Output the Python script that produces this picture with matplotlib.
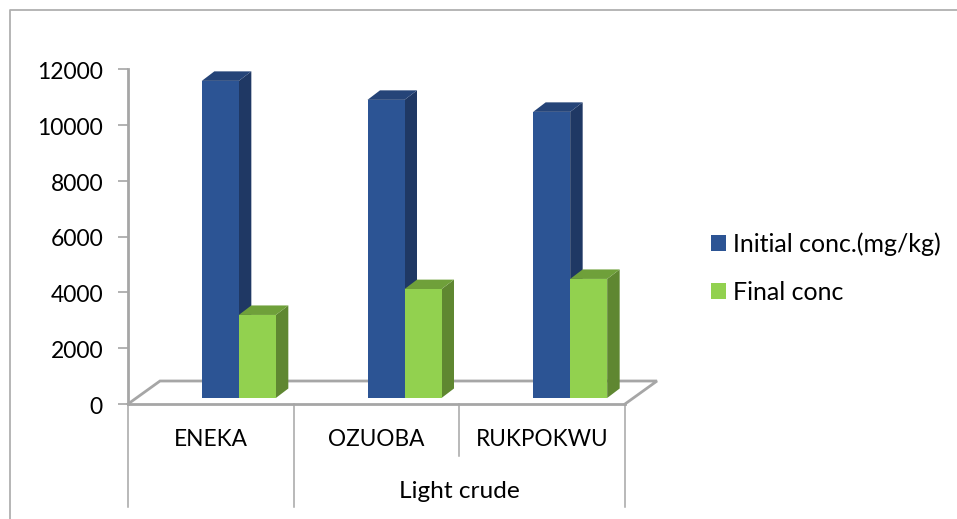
import matplotlib
matplotlib.use("Agg")
import matplotlib.pyplot as plt
from matplotlib.patches import Polygon, Patch
from matplotlib.transforms import Affine2D

plt.rcParams['font.family'] = ['Lato', 'DejaVu Sans']

# data
categories = ["ENEKA", "OZUOBA", "RUKPOKWU"]
group_label = "Light crude"
initial_conc = [11360, 10680, 10250]
final_conc = [2975, 3900, 4265]
series_names = ["Initial conc.(mg/kg)", "Final conc"]
y_ticks = [0, 2000, 4000, 6000, 8000, 10000, 12000]

W, H = 957, 519
AX_L, AX_R, AX_T, AX_B = 128, 625, 69, 404

BLUE = ["#2C5494", "#1F3864", "#254478"]   # front, side, top
GREEN = ["#92D14F", "#5F8731", "#6FA03A"]
GREY = "#A6A6A6"

fig = plt.figure(figsize=(W / 100, H / 100), dpi=100)
ax = fig.add_axes([AX_L / W, 1 - AX_B / H, (AX_R - AX_L) / W, (AX_B - AX_T) / H])
ax.set_xlim(0, 3)
ax.set_ylim(0, 12000)

# pixel sizes turned into data units
px_x = 3 / (AX_R - AX_L)
px_y = 12000 / (AX_B - AX_T)
bar_w = 37 * px_x
shift_x = 28 * px_x
base = 6 * px_y
depth_x = 12.5 * px_x
depth_y = 9.5 * px_y


def draw_bar(left, value, cols, z):
    top = base + value
    right = left + bar_w
    ax.bar(left, value, width=bar_w, bottom=base, align="edge", color=cols[0],
           linewidth=0, zorder=z + 1)
    side = [(right, base), (right + depth_x, base + depth_y),
            (right + depth_x, top + depth_y), (right, top)]
    lid = [(left, top), (left + depth_x, top + depth_y),
           (right + depth_x, top + depth_y), (right, top)]
    ax.add_patch(Polygon(side, closed=True, fc=cols[1], ec="none", zorder=z, clip_on=False))
    ax.add_patch(Polygon(lid, closed=True, fc=cols[2], ec="none", zorder=z, clip_on=False))


# green after blue so it sits over the dark side of the blue bar
for i in range(3):
    centre = i + 0.5 + shift_x
    draw_bar(centre - bar_w, initial_conc[i], BLUE, 2)
    draw_bar(centre, final_conc[i], GREEN, 4)

# floor of the 3d box
floor_dx = 32 * px_x
floor_dy = 23 * px_y
ax.plot([0, floor_dx, 3 + floor_dx, 3], [0, floor_dy, floor_dy, 0], color=GREY, lw=2,
        clip_on=False, zorder=1, solid_joinstyle="miter")

for s in ["top", "right"]:
    ax.spines[s].set_visible(False)
for s in ["left", "bottom"]:
    ax.spines[s].set_color(GREY)
    ax.spines[s].set_linewidth(2)
    ax.spines[s].set_zorder(6)

ax.set_yticks(y_ticks)
ax.tick_params(axis="y", length=7, width=1.2, color=GREY, labelsize=16.5, pad=11, labelcolor="black")
ax.set_xticks([])
# tick labels sit a little lower than the ticks
for lab in ax.get_yticklabels():
    lab.set_transform(lab.get_transform() + Affine2D().translate(0, -1.5))

# category and group labels under the axis
tick_tf = ax.get_xaxis_transform()
long_drop = -103 / (AX_B - AX_T)
short_drop = -52 / (AX_B - AX_T)
for x, drop in zip([0, 1, 2, 3], [long_drop, long_drop, short_drop, long_drop]):
    ax.plot([x, x], [0, drop], transform=tick_tf, color=GREY, lw=1.1, clip_on=False)
for i, name in enumerate(categories):
    ax.text(i + 0.5, -36 / (AX_B - AX_T), name, transform=tick_tf, ha="center", va="center",
            fontsize=16.3, color="black")
ax.text(2, -88 / (AX_B - AX_T), group_label, transform=tick_tf, ha="center", va="center",
        fontsize=17.6, color="black")

handles = [Patch(fc=BLUE[0], ec="none"), Patch(fc=GREEN[0], ec="none")]
fig.legend(handles, series_names, loc="center left", bbox_to_anchor=(711 / W, 1 - 268 / H),
           frameon=False, fontsize=18, handlelength=0.6, handleheight=0.6,
           handletextpad=0.28, labelspacing=1.0, borderpad=0, borderaxespad=0)

# chart frame, only left and top show in the picture
fig.add_artist(plt.Line2D([10 / W, 10 / W, 1], [0, 1 - 9.5 / H, 1 - 9.5 / H],
                          color="#B0B0B0", lw=1.3))

fig.savefig("out.png", dpi=100)
